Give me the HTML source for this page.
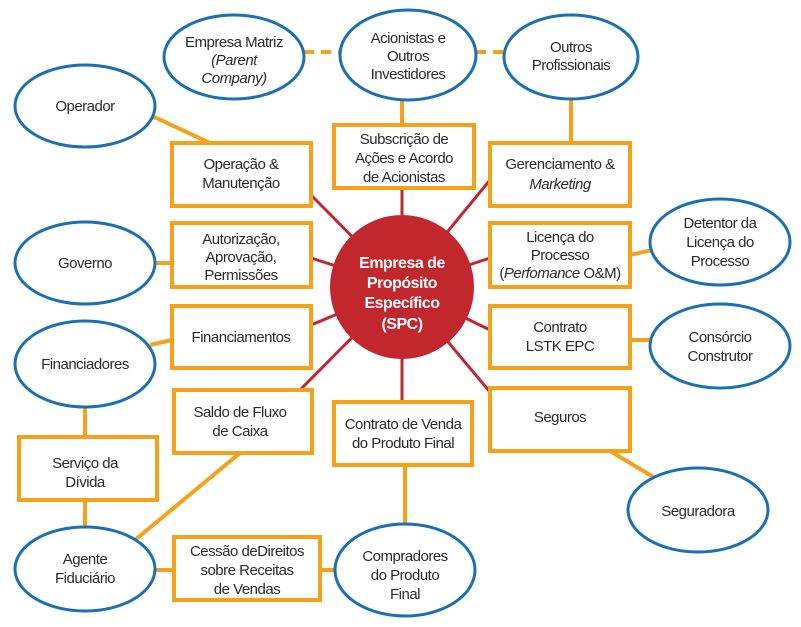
<!DOCTYPE html><html><head><meta charset="utf-8"><style>body{margin:0;background:#fff}svg text{font-family:"Liberation Sans",sans-serif;font-size:15px;fill:#2a2a2a;text-anchor:middle;letter-spacing:-0.5px}</style></head><body>
<svg width="801" height="622" viewBox="0 0 801 622">
<g stroke="#c1272d" stroke-width="3">
<line x1="402" y1="287" x2="311" y2="195"/><line x1="402" y1="287" x2="311" y2="258"/><line x1="402" y1="287" x2="311" y2="325"/><line x1="402" y1="287" x2="300" y2="390"/><line x1="402" y1="287" x2="402" y2="188"/><line x1="402" y1="287" x2="402" y2="402"/><line x1="402" y1="287" x2="490" y2="180"/><line x1="402" y1="287" x2="490" y2="258"/><line x1="402" y1="287" x2="490" y2="330"/><line x1="402" y1="287" x2="490" y2="392"/>
</g>
<g stroke="#f7a11a" stroke-width="4" fill="none">
<line x1="150" y1="115" x2="210" y2="143"/><line x1="155" y1="263" x2="172" y2="263"/><line x1="150" y1="345" x2="172" y2="340"/><line x1="85" y1="407" x2="85" y2="437"/><line x1="85" y1="500" x2="85" y2="527"/><line x1="135" y1="540" x2="240" y2="453"/><line x1="155" y1="570" x2="174" y2="570"/><line x1="320" y1="570" x2="335" y2="570"/><line x1="405" y1="465" x2="405" y2="524"/><line x1="402" y1="100" x2="402" y2="125"/><line x1="571" y1="99" x2="571" y2="143"/><line x1="630" y1="255" x2="652" y2="250"/><line x1="630" y1="340" x2="650" y2="340"/><line x1="610" y1="451" x2="655" y2="478"/>
<line x1="304" y1="52" x2="340" y2="52" stroke-dasharray="10,7"/><line x1="476" y1="52" x2="505" y2="52" stroke-dasharray="10,7"/>
</g>
<g stroke="#1a6fb5" stroke-width="3" fill="#fff">
<ellipse cx="234" cy="57" rx="70" ry="42"/><ellipse cx="408" cy="55" rx="68" ry="45"/><ellipse cx="571" cy="57" rx="67" ry="42"/><ellipse cx="85" cy="106" rx="70" ry="41"/><ellipse cx="85" cy="263" rx="70" ry="41"/><ellipse cx="85" cy="364" rx="70" ry="43"/><ellipse cx="85" cy="569" rx="70" ry="42"/><ellipse cx="405" cy="570" rx="70" ry="46"/><ellipse cx="720" cy="242" rx="70" ry="43"/><ellipse cx="720" cy="346" rx="70" ry="42"/><ellipse cx="698" cy="510" rx="70" ry="42"/>
</g>
<g stroke="#f7a11a" stroke-width="4" fill="#fff">
<rect x="172" y="143" width="139" height="63"/><rect x="172" y="223" width="139" height="64"/><rect x="172" y="306" width="139" height="62"/><rect x="174" y="390" width="138" height="63"/><rect x="19" y="437" width="138" height="63"/><rect x="174" y="537" width="146" height="63"/><rect x="334" y="125" width="140" height="63"/><rect x="334" y="402" width="138" height="63"/><rect x="490" y="143" width="140" height="63"/><rect x="490" y="223" width="140" height="64"/><rect x="490" y="306" width="140" height="62"/><rect x="490" y="388" width="140" height="63"/>
</g>
<circle cx="402" cy="287" r="72" fill="#c1272d"/>
<g font-weight="bold" style="font-weight:bold"><text x="402" y="268" style="fill:#fff;font-size:16px;font-weight:bold">Empresa de</text><text x="402" y="288" style="fill:#fff;font-size:16px;font-weight:bold">Propósito</text><text x="402" y="308" style="fill:#fff;font-size:16px;font-weight:bold">Específico</text><text x="402" y="329" style="fill:#fff;font-size:16px;font-weight:bold">(SPC)</text></g>
<text x="234" y="47">Empresa Matriz</text><text x="234" y="65" font-style="italic">(Parent</text><text x="234" y="83" font-style="italic">Company)</text>
<text x="408" y="43">Acionistas e</text><text x="408" y="61">Outros</text><text x="408" y="79">Investidores</text>
<text x="571" y="52">Outros</text><text x="571" y="70">Profissionais</text>
<text x="85" y="111">Operador</text><text x="85" y="268">Governo</text><text x="85" y="369">Financiadores</text>
<text x="85" y="564">Agente</text><text x="85" y="583">Fiduciário</text>
<text x="405" y="561">Compradores</text><text x="405" y="580">do Produto</text><text x="405" y="599">Final</text>
<text x="720" y="228">Detentor da</text><text x="720" y="247">Licença do</text><text x="720" y="266">Processo</text>
<text x="720" y="342">Consórcio</text><text x="720" y="361">Construtor</text>
<text x="698" y="516">Seguradora</text>
<text x="241" y="169">Operação &amp;</text><text x="241" y="188">Manutenção</text>
<text x="241" y="244">Autorização,</text><text x="241" y="262">Aprovação,</text><text x="241" y="280">Permissões</text>
<text x="241" y="342">Financiamentos</text>
<text x="240" y="417">Saldo de Fluxo</text><text x="240" y="436">de Caixa</text>
<text x="85" y="468">Serviço da</text><text x="85" y="487">Dívida</text>
<text x="247" y="556">Cessão deDireitos</text><text x="247" y="575">sobre Receitas</text><text x="247" y="594">de Vendas</text>
<text x="404" y="144">Subscrição de</text><text x="404" y="163">Ações e Acordo</text><text x="404" y="182">de Acionistas</text>
<text x="403" y="429">Contrato de Venda</text><text x="403" y="448">do Produto Final</text>
<text x="560" y="169">Gerenciamento &amp;</text><text x="560" y="189" font-style="italic">Marketing</text>
<text x="560" y="242">Licença do</text><text x="560" y="260">Processo</text><text x="560" y="278">(<tspan font-style="italic">Perfomance</tspan> O&amp;M)</text>
<text x="560" y="332">Contrato</text><text x="560" y="351">LSTK EPC</text>
<text x="560" y="422">Seguros</text>
</svg></body></html>
